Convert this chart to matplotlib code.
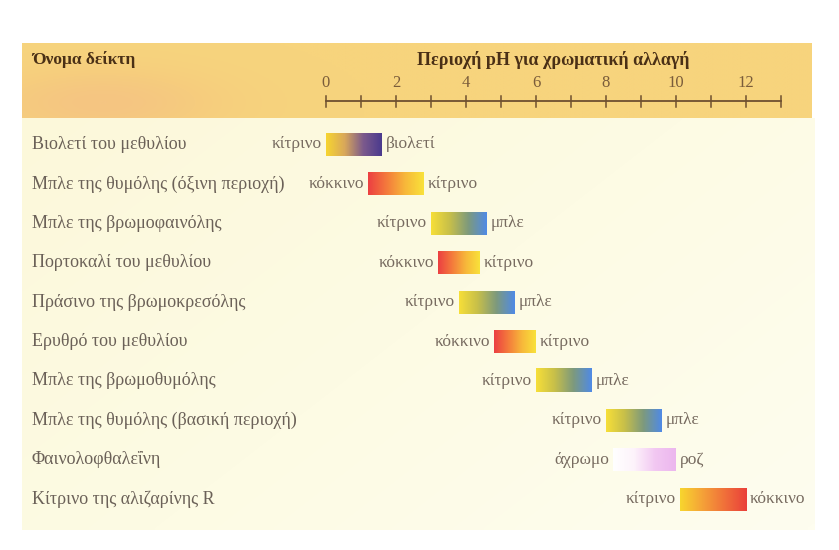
import numpy as np
import matplotlib
matplotlib.use("Agg")
import matplotlib.pyplot as plt
from matplotlib.colors import LinearSegmentedColormap

plt.rcParams['font.family'] = ['Liberation Serif', 'DejaVu Serif']

# indicator names, pH ranges and colours at the two ends
names = [
    "Βιολετί του μεθυλίου",
    "Μπλε της θυμόλης (όξινη περιοχή)",
    "Μπλε της βρωμοφαινόλης",
    "Πορτοκαλί του μεθυλίου",
    "Πράσινο της βρωμοκρεσόλης",
    "Ερυθρό του μεθυλίου",
    "Μπλε της βρωμοθυμόλης",
    "Μπλε της θυμόλης (βασική περιοχή)",
    "Φαινολοφθαλεΐνη",
    "Κίτρινο της αλιζαρίνης R",
]
ph_low = [0.0, 1.2, 3.0, 3.2, 3.8, 4.8, 6.0, 8.0, 8.2, 10.1]
ph_high = [1.6, 2.8, 4.6, 4.4, 5.4, 6.0, 7.6, 9.6, 10.0, 12.0]
acid_label = ["κίτρινο", "κόκκινο", "κίτρινο", "κόκκινο", "κίτρινο",
              "κόκκινο", "κίτρινο", "κίτρινο", "άχρωμο", "κίτρινο"]
base_label = ["βιολετί", "κίτρινο", "μπλε", "κίτρινο", "μπλε",
              "κίτρινο", "μπλε", "μπλε", "ροζ", "κόκκινο"]
ph_ticks = list(range(0, 14))
ph_tick_labels = ["0", "2", "4", "6", "8", "10", "12"]

colour_sets = {
    "κίτρινο-βιολετί": ["#f7d530", "#d9a85a", "#7c5a8c", "#4a3a8e"],
    "κόκκινο-κίτρινο": ["#ec3f42", "#f47a3c", "#f7b83a", "#f9e23a"],
    "κίτρινο-μπλε": ["#f7df38", "#c7bf4a", "#7e9a7c", "#4f8ae6"],
    "άχρωμο-ροζ": ["#ffffff", "#fdf3fb", "#f2c8f2", "#ecb6ee"],
    "κίτρινο-κόκκινο": ["#f8d62e", "#f5a238", "#f0703a", "#ea403a"],
}

# page layout, pixel based (figure is 839 x 550)
W, H = 839, 550
x0_px, unit_px = 326.0, 35.0
row0_px, row_px = 144.5, 39.4


def px_x(p):
    return (p - x0_px) / unit_px


def px_y(p):
    return (p - row0_px) / row_px


fig = plt.figure(figsize=(8.39, 5.5), dpi=100)
ax = fig.add_axes([0, 0, 1, 1])
ax.axis("off")

# cream panel
gx = np.linspace(0, 1, 200)
gy = np.linspace(0, 1, 100)
GX, GY = np.meshgrid(gx, gy)
panel = np.clip(0.6 * GX + 0.4 * GY, 0, 1)
panel_cmap = LinearSegmentedColormap.from_list("panel", ["#fcf8da", "#fdfbe4", "#fefdef"])
ax.imshow(panel, cmap=panel_cmap, extent=[px_x(22), px_x(815), px_y(530), px_y(118)],
          aspect="auto", interpolation="bilinear", zorder=0)

# header band, a faint peach patch at the lower left
hx = np.linspace(0, 1, 200)
hy = np.linspace(0, 1, 60)
HX, HY = np.meshgrid(hx, hy)
head = np.exp(-((HX - 0.1) ** 2 / 0.02 + (HY - 0.8) ** 2 / 0.2))
head_cmap = LinearSegmentedColormap.from_list("head", ["#f7d47d", "#f6cc7e", "#f5c582"])
ax.imshow(head, cmap=head_cmap, extent=[px_x(22), px_x(812), px_y(118), px_y(43)],
          aspect="auto", interpolation="bilinear", zorder=1, vmin=0, vmax=1)

txt_head = "#4a3016"
ax.text(px_x(32), px_y(60), "Όνομα δείκτη", fontsize=12.5, fontweight="bold",
        color=txt_head, va="center", ha="left", zorder=3)
ax.text(6.5, px_y(60), "Περιοχή pH για χρωματική αλλαγή", fontsize=13,
        fontweight="bold", color=txt_head, va="center", ha="center", zorder=3)

# pH scale
axis_y = px_y(101)
tick_h = 5.5 / row_px
line_col = "#6e5030"
ax.plot([ph_ticks[0], ph_ticks[-1]], [axis_y, axis_y], color=line_col, lw=1.3, zorder=3)
for t in ph_ticks:
    ax.plot([t, t], [axis_y - tick_h, axis_y + tick_h], color=line_col, lw=1.1, zorder=3)
for lab in ph_tick_labels:
    ax.text(float(lab), px_y(83), lab, fontsize=12, color="#7a5c3a",
            ha="center", va="center", zorder=3)

# rows
name_col = "#6b6158"
lab_col = "#776b60"
bar_h = 23.0 / row_px
pad = 4.0 / unit_px
grad = np.linspace(0, 1, 256).reshape(1, -1)
for i, name in enumerate(names):
    ax.text(px_x(32), i, name, fontsize=13, color=name_col, ha="left", va="center", zorder=3)
    key = acid_label[i] + "-" + base_label[i]
    cmap = LinearSegmentedColormap.from_list(key, colour_sets[key])
    ax.imshow(grad, cmap=cmap, extent=[ph_low[i], ph_high[i], i + bar_h / 2, i - bar_h / 2],
              aspect="auto", interpolation="bilinear", zorder=2)
    ax.text(ph_low[i] - pad, i, acid_label[i], fontsize=12.5, color=lab_col,
            ha="right", va="center", zorder=3)
    ax.text(ph_high[i] + pad, i, base_label[i], fontsize=12.5, color=lab_col,
            ha="left", va="center", zorder=3)

ax.set_xlim(px_x(0), px_x(W))
ax.set_ylim(px_y(H), px_y(0))

fig.savefig("out.png", dpi=100, facecolor="white")
